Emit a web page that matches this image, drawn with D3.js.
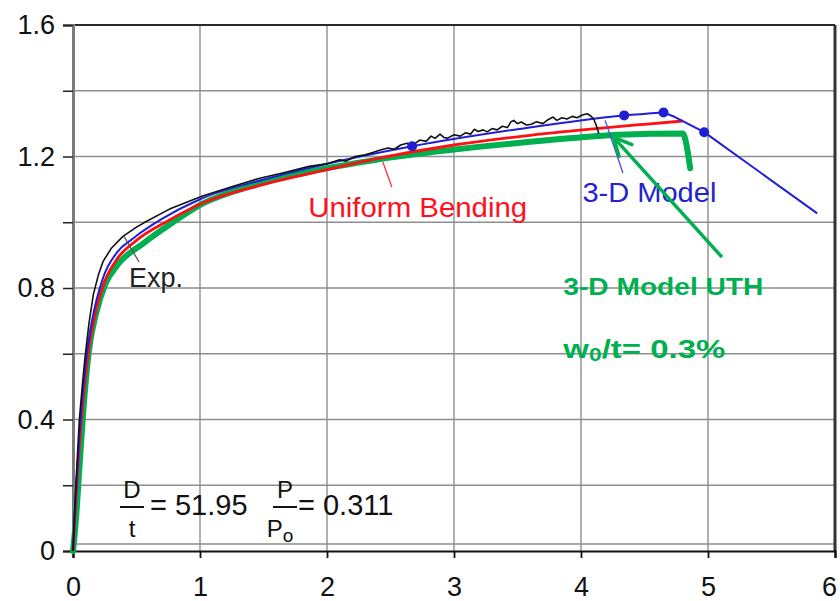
<!DOCTYPE html>
<html>
<head>
<meta charset="utf-8">
<script src="https://cdn.jsdelivr.net/npm/d3@7"></script>
<style>
  body { margin: 0; background: #fff; }
  svg { display: block; }
  text { font-family: "Liberation Sans", Arial, sans-serif; }
</style>
</head>
<body>
<svg id="chart" width="840" height="601"></svg>
<script>
// Axis ticks
const xTickValues = [0, 1, 2, 3, 4, 5, 6];
const yTickValues = [0, 0.2, 0.4, 0.6, 0.8, 1.0, 1.2, 1.4, 1.6];
const yLabelValues = [0, 0.4, 0.8, 1.2, 1.6];

// Experimental moment-curvature record
const expData = [
  [0, 0], [0.01, 0.1], [0.025, 0.22], [0.05, 0.4], [0.075, 0.51], [0.094, 0.587],
  [0.125, 0.69], [0.16, 0.78], [0.2, 0.84], [0.236, 0.88], [0.3, 0.92], [0.393, 0.957],
  [0.5, 0.985], [0.58, 1.003], [0.76, 1.04], [1.02, 1.08], [1.25, 1.108], [1.47, 1.134],
  [1.65, 1.15], [1.86, 1.17], [2.0, 1.178], [2.1, 1.19], [2.15, 1.186], [2.22, 1.2],
  [2.3, 1.205], [2.36, 1.212], [2.42, 1.22], [2.48, 1.226], [2.53, 1.222], [2.58, 1.235],
  [2.63, 1.24], [2.68, 1.236], [2.73, 1.25], [2.78, 1.246], [2.82, 1.262], [2.85, 1.255],
  [2.89, 1.268], [2.92, 1.258], [2.95, 1.256], [3.0, 1.266], [3.05, 1.262], [3.09, 1.272],
  [3.13, 1.268], [3.16, 1.283], [3.19, 1.276], [3.23, 1.281], [3.26, 1.275], [3.3, 1.285],
  [3.34, 1.281], [3.38, 1.292], [3.42, 1.288], [3.45, 1.306], [3.47, 1.31], [3.5, 1.3],
  [3.53, 1.305], [3.57, 1.296], [3.61, 1.298], [3.65, 1.306], [3.7, 1.3], [3.74, 1.312],
  [3.78, 1.32], [3.81, 1.31], [3.85, 1.318], [3.89, 1.314], [3.93, 1.322], [3.97, 1.318],
  [4.01, 1.326], [4.05, 1.33], [4.08, 1.322], [4.1, 1.314], [4.12, 1.295], [4.14, 1.27]
];

// 3-D shell model
const model3dData = [
  [0, 0], [0.02, 0.15], [0.05, 0.35], [0.1, 0.57], [0.15, 0.7], [0.236, 0.83],
  [0.35, 0.91], [0.47, 0.95], [0.7, 1.01], [1.0, 1.07], [1.5, 1.13], [1.86, 1.165],
  [2.67, 1.231], [3.5, 1.283], [4.34, 1.325], [4.65, 1.334], [4.74, 1.32],
  [4.97, 1.274], [5.86, 1.027]
];
const model3dMarkers = [[2.67, 1.231], [4.34, 1.325], [4.65, 1.334], [4.97, 1.274]];

// Uniform bending solution
const uniformData = [
  [0, 0], [0.03, 0.2], [0.07, 0.42], [0.12, 0.6], [0.18, 0.73], [0.25, 0.82],
  [0.35, 0.89], [0.5, 0.945], [0.75, 1.005], [1.0, 1.055], [1.5, 1.115], [2.0, 1.16],
  [2.41, 1.195], [3.0, 1.235], [3.5, 1.26], [3.99, 1.28], [4.5, 1.298], [4.8, 1.308]
];

// 3-D model with uniform thickness imperfection
const uthData = [
  [0, 0], [0.02, 0.08], [0.05, 0.25], [0.08, 0.42], [0.126, 0.611], [0.18, 0.72],
  [0.257, 0.814], [0.35, 0.87], [0.554, 0.936], [0.75, 0.99], [1.027, 1.058],
  [1.4, 1.11], [1.868, 1.154], [2.42, 1.192], [3.21, 1.23], [3.6, 1.245],
  [3.995, 1.258], [4.3, 1.266], [4.8, 1.27], [4.86, 1.164]
];

const svg = d3.select("#chart");
const x = d3.scaleLinear().domain([0, 6]).range([73, 835]);
const y = d3.scaleLinear().domain([0, 1.6]).range([551, 25]);

svg.append("rect").attr("width", 840).attr("height", 601).attr("fill", "#fff");

// Grid
const grid = svg.append("g").attr("stroke", "#8e8e8e").attr("stroke-width", 1.4);
grid.selectAll("line.v").data(xTickValues.slice(1, -1)).join("line")
  .attr("x1", d => x(d)).attr("x2", d => x(d)).attr("y1", y(1.6)).attr("y2", y(0));
grid.selectAll("line.h").data(yTickValues.slice(1, -1)).join("line")
  .attr("x1", x(0)).attr("x2", x(6)).attr("y1", d => y(d)).attr("y2", d => y(d));
grid.append("line").attr("x1", x(0)).attr("x2", x(6))
  .attr("y1", y(0) - 7).attr("y2", y(0) - 7);

// Frame: top and right
svg.append("line").attr("x1", x(0)).attr("x2", x(6)).attr("y1", y(1.6)).attr("y2", y(1.6))
  .attr("stroke", "#2a2a2a").attr("stroke-width", 2);
svg.append("line").attr("x1", x(6)).attr("x2", x(6)).attr("y1", y(1.6)).attr("y2", y(0))
  .attr("stroke", "#333").attr("stroke-width", 3);

// Axes
const yAxis = svg.append("g").attr("transform", `translate(${x(0)},0)`)
  .call(d3.axisLeft(y).tickValues(yTickValues).tickSize(10).tickPadding(8)
    .tickFormat(d => yLabelValues.some(v => Math.abs(v - d) < 1e-9) ? d3.format("")(+d.toFixed(1)) : ""));
yAxis.select(".domain").attr("stroke", "#7a7a7a").attr("stroke-width", 3);
yAxis.selectAll(".tick line").attr("stroke", "#222").attr("stroke-width", 1.5);
yAxis.selectAll(".tick text").attr("font-size", 27).attr("fill", "#111")
  .attr("font-family", "Liberation Sans, Arial, sans-serif");

const xAxis = svg.append("g").attr("transform", `translate(0,${y(0)})`)
  .call(d3.axisBottom(x).tickValues(xTickValues).tickSize(7).tickPadding(19).tickFormat(d3.format("d")));
xAxis.select(".domain").attr("stroke", "#111").attr("stroke-width", 2.2);
xAxis.selectAll(".tick line").attr("stroke", "#111").attr("stroke-width", 1.8);
xAxis.selectAll(".tick text").attr("font-size", 27).attr("fill", "#111")
  .attr("font-family", "Liberation Sans, Arial, sans-serif");
// keep the last label inside the page edge
xAxis.selectAll(".tick text").filter(d => d === 6).attr("dx", -6);

// Curves
const smooth = d3.line().x(d => x(d[0])).y(d => y(d[1])).curve(d3.curveMonotoneX);
const straight = d3.line().x(d => x(d[0])).y(d => y(d[1]));

svg.append("path").datum(uthData).attr("d", smooth)
  .attr("fill", "none").attr("stroke", "#00b050").attr("stroke-width", 6)
  .attr("stroke-linejoin", "round").attr("stroke-linecap", "round");
svg.append("path").datum(uniformData).attr("d", smooth)
  .attr("fill", "none").attr("stroke", "#ff1010").attr("stroke-width", 2.8);

// 3-D model: smooth rising branch, straight segments past the peak
const peakIdx = d3.maxIndex(model3dData, d => d[1]);
svg.append("path").datum(model3dData.slice(0, peakIdx + 1)).attr("d", smooth)
  .attr("fill", "none").attr("stroke", "#1f1fd6").attr("stroke-width", 2);
svg.append("path").datum(model3dData.slice(peakIdx)).attr("d", straight)
  .attr("fill", "none").attr("stroke", "#1f1fd6").attr("stroke-width", 2)
  .attr("stroke-linejoin", "round");

svg.append("path").datum(expData).attr("d", straight)
  .attr("fill", "none").attr("stroke", "#111").attr("stroke-width", 1.6)
  .attr("stroke-linejoin", "round");
svg.selectAll("circle.m").data(model3dMarkers).join("circle")
  .attr("cx", d => x(d[0])).attr("cy", d => y(d[1])).attr("r", 5)
  .attr("fill", "#1f1fd6");

// Annotations
function leader(p0, p1, color, w) {
  svg.append("line").attr("x1", x(p0[0])).attr("y1", y(p0[1]))
    .attr("x2", x(p1[0])).attr("y2", y(p1[1]))
    .attr("stroke", color).attr("stroke-width", w);
}
leader([0.40, 0.958], [0.52, 0.879], "#555", 1.3);
leader([2.44, 1.183], [2.51, 1.107], "#ff3040", 1.3);
leader([4.19, 1.31], [4.33, 1.15], "#4a4ad8", 1.3);

svg.append("text").attr("x", x(0.441)).attr("y", y(0.803))
  .attr("font-size", 27).attr("fill", "#222").text("Exp.");
svg.append("text").attr("x", x(1.852)).attr("y", y(1.016))
  .attr("font-size", 27).attr("fill", "#ff1020")
  .attr("textLength", 219).attr("lengthAdjust", "spacingAndGlyphs").text("Uniform Bending");
svg.append("text").attr("x", x(4.011)).attr("y", y(1.062))
  .attr("font-size", 27).attr("fill", "#2323d0")
  .attr("textLength", 134).attr("lengthAdjust", "spacingAndGlyphs").text("3-D Model");

// Green arrow pointing at the UTH curve
const tail = [x(5.11), y(0.894)], tip = [x(4.255), y(1.259)];
svg.append("line").attr("x1", tail[0]).attr("y1", tail[1]).attr("x2", tip[0]).attr("y2", tip[1])
  .attr("stroke", "#00b050").attr("stroke-width", 3.5);
const ang = Math.atan2(tail[1] - tip[1], tail[0] - tip[0]);
const headLen = 20, spread = 0.45;
[ang - spread, ang + spread].forEach(a => {
  svg.append("line").attr("x1", tip[0]).attr("y1", tip[1])
    .attr("x2", tip[0] + headLen * Math.cos(a)).attr("y2", tip[1] + headLen * Math.sin(a))
    .attr("stroke", "#00b050").attr("stroke-width", 3.5).attr("stroke-linecap", "round");
});

const green = svg.append("g").attr("fill", "#00b050").attr("font-weight", "bold")
  .style("font-family", "'DejaVu Sans', Verdana, sans-serif");
green.append("text").attr("x", x(3.861)).attr("y", y(0.779)).attr("font-size", 24)
  .attr("textLength", 200).attr("lengthAdjust", "spacingAndGlyphs").text("3-D Model UTH");
const w0 = green.append("text").attr("x", x(3.861)).attr("y", y(0.587)).attr("font-size", 26)
  .attr("textLength", 162).attr("lengthAdjust", "spacingAndGlyphs");
w0.append("tspan").text("w");
w0.append("tspan").attr("font-size", 18).attr("dy", 3).text("0");
w0.append("tspan").attr("dy", -3).text("/t= 0.3%");

// D/t and P/Po parameters
const fx = x(0), fy = y(0);
const par = svg.append("g").attr("fill", "#111");
function fraction(cx, num, den, sub) {
  par.append("text").attr("x", cx).attr("y", fy - 53).attr("font-size", 24)
    .attr("text-anchor", "middle").text(num);
  par.append("line").attr("x1", cx - 12).attr("x2", cx + 12).attr("y1", fy - 44).attr("y2", fy - 44)
    .attr("stroke", "#111").attr("stroke-width", 2);
  const t = par.append("text").attr("x", sub ? cx - 5 : cx).attr("y", fy - 14).attr("font-size", 24)
    .attr("text-anchor", "middle");
  t.append("tspan").text(den);
  if (sub) t.append("tspan").attr("font-size", 19).attr("dy", 5).text(sub);
}
fraction(fx + 59, "D", "t");
par.append("text").attr("x", fx + 77).attr("y", fy - 36).attr("font-size", 29).text("= 51.95");
fraction(fx + 212, "P", "P", "o");
par.append("text").attr("x", fx + 225).attr("y", fy - 36).attr("font-size", 29).text("= 0.311");
</script>
</body>
</html>
